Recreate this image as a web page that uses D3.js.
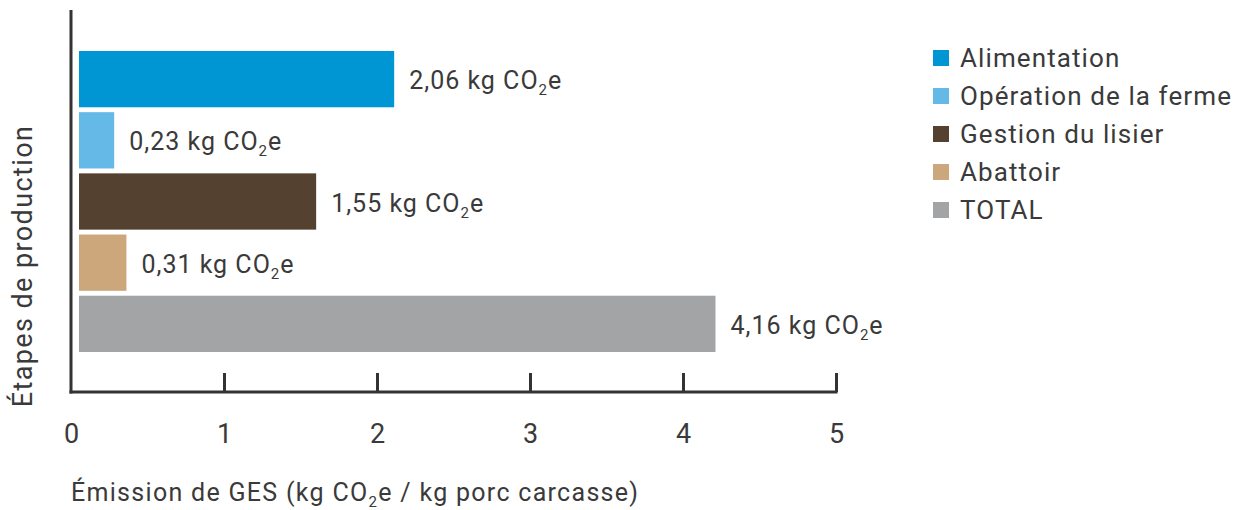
<!DOCTYPE html>
<html>
<head>
<meta charset="utf-8">
<script src="https://cdn.jsdelivr.net/npm/d3@7"></script>
<style>
  body { margin: 0; background: #fff; }
  text { font-family: Roboto, "Noto Sans", sans-serif; fill: #3a3a3a; }
</style>
</head>
<body>
<div id="chart-container"></div>
<script>
const categories = ["Alimentation", "Opération de la ferme", "Gestion du lisier", "Abattoir", "TOTAL"];
const values = [2.06, 0.23, 1.55, 0.31, 4.16];
const colors = ["#0095d3", "#64b9e7", "#55412f", "#cba77b", "#a2a4a6"];
const xTicks = [0, 1, 2, 3, 4, 5];

const width = 1243;
const height = 510;

const svg = d3.select("#chart-container")
    .append("svg")
    .attr("width", width)
    .attr("height", height);

// scales
const xScale = d3.scaleLinear()
    .domain([0, 5])
    .range([71, 836]);

const yScale = d3.scaleBand()
    .domain(categories)
    .range([51, 352])
    .paddingInner(0.08);

const barStart = 8; // bars sit a little off the axis line
const axisY = 392;

// bars
svg.selectAll(".bar")
    .data(categories)
    .enter()
    .append("rect")
    .attr("class", "bar")
    .attr("x", xScale(0) + barStart)
    .attr("y", d => yScale(d))
    .attr("width", (d, i) => xScale(values[i]) - xScale(0))
    .attr("height", yScale.bandwidth())
    .attr("fill", (d, i) => colors[i]);

// value labels with subscript 2
const fmt = v => d3.format(".2f")(v).replace(".", ",");
const labels = svg.selectAll(".val")
    .data(categories)
    .enter()
    .append("text")
    .attr("class", "val")
    .attr("x", (d, i) => xScale(values[i]) + barStart + 15)
    .attr("y", d => yScale(d) + yScale.bandwidth() / 2 + 10)
    .style("font-size", "25px")
    .style("letter-spacing", "1px");
labels.append("tspan").text((d, i) => fmt(values[i]) + " kg CO");
labels.append("tspan").text("2").attr("dy", 6).style("font-size", "15px");
labels.append("tspan").text("e").attr("dy", -6);

// x axis
const xAxis = svg.append("g")
    .attr("transform", `translate(0, ${axisY})`)
    .call(d3.axisBottom(xScale).tickValues(xTicks).tickFormat(d3.format("d"))
        .tickSizeInner(-19).tickSizeOuter(0).tickPadding(32));
xAxis.select(".domain").attr("stroke", "#333").attr("stroke-width", 3)
    .attr("d", `M${xScale(0) - 1.5},0H${xScale(5) + 1.5}`);
xAxis.selectAll(".tick line").attr("stroke", "#333").attr("stroke-width", 3);
xAxis.selectAll(".tick text").style("font-size", "27px").attr("fill", "#3a3a3a")
    .style("font-family", "Roboto, sans-serif");
xAxis.selectAll(".tick").filter(d => d === 0).select("line").remove();

// y axis line
svg.append("line")
    .attr("x1", xScale(0)).attr("x2", xScale(0))
    .attr("y1", 10).attr("y2", axisY + 1.5)
    .attr("stroke", "#333").attr("stroke-width", 3);

// axis titles
const xt = svg.append("text")
    .attr("x", 71)
    .attr("y", 501)
    .style("font-size", "25px")
    .style("letter-spacing", "1.3px");
xt.append("tspan").text("Émission de GES (kg CO");
xt.append("tspan").text("2").attr("dy", 6).style("font-size", "15px");
xt.append("tspan").text("e / kg porc carcasse)").attr("dy", -6);

svg.append("text")
    .attr("transform", "translate(32, 266) rotate(-90)")
    .attr("text-anchor", "middle")
    .style("font-size", "27px")
    .style("letter-spacing", "1.4px")
    .text("Étapes de production");

// legend
const legend = svg.selectAll(".legend")
    .data(categories)
    .enter()
    .append("g")
    .attr("class", "legend")
    .attr("transform", (d, i) => `translate(933, ${58 + i * 38})`);
legend.append("rect")
    .attr("x", 0).attr("y", -8)
    .attr("width", 16).attr("height", 16)
    .attr("fill", (d, i) => colors[i]);
legend.append("text")
    .attr("x", 27).attr("y", 9)
    .style("font-size", "26px")
    .style("letter-spacing", "1.1px")
    .text(d => d);
</script>
</body>
</html>
